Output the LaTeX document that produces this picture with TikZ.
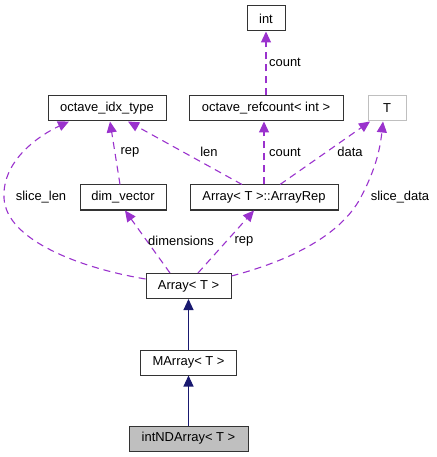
\documentclass[tikz,border=0pt]{standalone}
\usepackage{fontspec}
\setmainfont{Liberation Sans}
\usetikzlibrary{arrows.meta,calc}
\definecolor{depc}{HTML}{9A32CD}
\definecolor{inhc}{HTML}{191970}
\definecolor{boxgray}{HTML}{BFBFBF}
\begin{document}
\begin{tikzpicture}[x=1bp,y=-1bp,
  box/.style={draw=black!80, line width=1bp, minimum height=25bp, inner sep=0pt,
    font=\fontsize{13}{15}\selectfont, fill=white},
  depline/.style={draw=depc, line width=1.1bp, dash pattern=on 7bp off 5bp,
    -{Triangle[length=11bp,width=10bp,fill=depc]}},
  inhline/.style={draw=inhc, line width=1.1bp,
    -{Triangle[length=11bp,width=10bp,fill=inhc]}},
  lbl/.style={font=\fontsize{13}{15}\selectfont, inner sep=0pt}]
\useasboundingbox (0,0) rectangle (437,457);
% nodes
\node[box, minimum width=38bp] (int) at (266,18.5) {int};
\node[box, minimum width=118bp] (oit) at (107,108.5) {octave\_idx\_type};
\node[box, minimum width=154bp] (ref) at (266,108.5) {octave\_refcount< int >};
\node[box, minimum width=38bp, draw=boxgray] (T) at (387,108.5) {T};
\node[box, minimum width=86bp] (dim) at (123,197.5) {dim\_vector};
\node[box, minimum width=148bp] (rep) at (264,197.5) {Array< T >::ArrayRep};
\node[box, minimum width=85bp] (arr) at (188.5,286) {Array< T >};
\node[box, minimum width=96bp] (marr) at (188.5,362.5) {MArray< T >};
\node[box, minimum width=119bp, fill=boxgray] (ind) at (188.5,438.5) {intNDArray< T >};
% dependency edges
\draw[depline] (ref.north) -- (int.south);
\draw[depline] ($(dim.north)+(-3,0)$) -- ($(oit.south)+(3,0)$);
\draw[depline] ($(rep.north)+(-22,0)$) -- ($(oit.south)+(21,0)$);
\draw[depline] (rep.north) -- ($(ref.south)+(-2,0)$);
\draw[depline] ($(rep.north)+(16,0)$) -- ($(T.south)+(-17,0)$);
\draw[depline] ($(arr.north)+(-18.5,0)$) -- ($(dim.south)+(2,0)$);
\draw[depline] ($(arr.north)+(9.5,0)$) -- ($(rep.south)+(-10,0)$);
\draw[depline] ($(arr.west)+(0,-7)$) .. controls (80,268) and (6,240) .. (4,198)
  .. controls (2,160) and (40,135) .. ($(oit.south)+(-38,0)$);
\draw[depline] ($(arr.east)+(0,-10)$) .. controls (300,258) and (345,230) .. (362,195)
  .. controls (375,170) and (380,150) .. ($(T.south)+(-4,0)$);
% inheritance edges
\draw[inhline] (marr.north) -- (arr.south);
\draw[inhline] (ind.north) -- (marr.south);
% labels
\node[lbl] (l1) at (285,62) {count};
\node[lbl] (l2) at (130,152) {rep};
\node[lbl] (l3) at (209,152) {len};
\node[lbl] (l4) at (285,152) {count};
\node[lbl] (l5) at (350,152) {data};
\node[lbl] (l6) at (41,197) {slice\_len};
\node[lbl] (l7) at (400,197) {slice\_data};
\node[lbl] (l8) at (181,241) {dimensions};
\node[lbl] (l9) at (244,241) {rep};
\end{tikzpicture}
\end{document}
